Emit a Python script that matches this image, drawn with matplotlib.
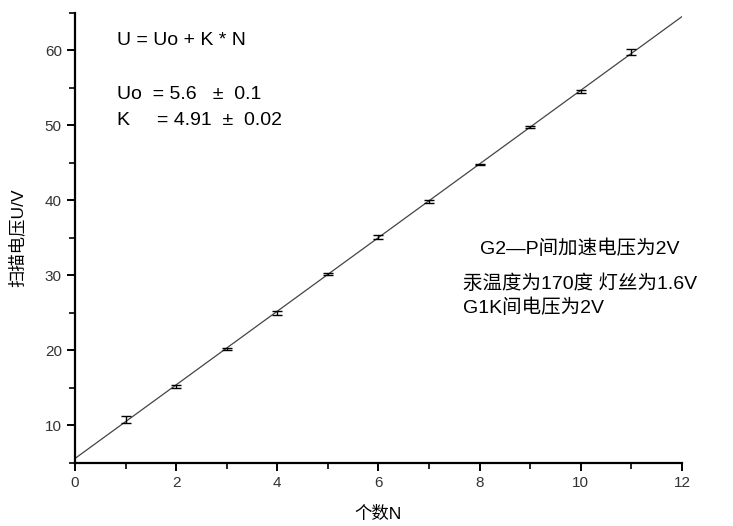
import matplotlib
matplotlib.use("Agg")
import matplotlib.pyplot as plt
from matplotlib.ticker import MultipleLocator

plt.rcParams['font.family'] = ['Liberation Sans', 'Noto Sans CJK SC', 'DejaVu Sans']

# data
n = [1, 2, 3, 4, 5, 6, 7, 8, 9, 10, 11]
u = [10.8, 15.2, 20.2, 25.0, 30.2, 35.1, 39.9, 44.8, 49.8, 54.5, 59.8]
u_err = [0.45, 0.15, 0.15, 0.3, 0.1, 0.25, 0.2, 0.1, 0.1, 0.2, 0.35]
uo = 5.6
k = 4.91
fit_x = [0, 12]

fig = plt.figure(figsize=(7.33, 5.26), dpi=100)
ax = fig.add_axes([0.1023, 0.1198, 0.8281, 0.8555])

ax.plot(fit_x, [uo + k * x for x in fit_x], color='#444444', linewidth=0.9)
ax.errorbar(n, u, yerr=u_err, fmt='none', ecolor='black',
            elinewidth=1.0, capsize=3.5, capthick=1.0)

ax.set_xlim(0, 12)
ax.set_ylim(5, 65)
ax.xaxis.set_major_locator(MultipleLocator(2))
ax.xaxis.set_minor_locator(MultipleLocator(1))
ax.yaxis.set_major_locator(MultipleLocator(10))
ax.yaxis.set_minor_locator(MultipleLocator(5))
ax.spines['top'].set_visible(False)
ax.spines['right'].set_visible(False)
for s in ('left', 'bottom'):
    ax.spines[s].set_linewidth(1.6)
ax.tick_params(which='major', direction='out', length=6, width=1.4,
               labelsize=11, labelcolor='#333333')
ax.tick_params(which='minor', direction='out', length=4, width=1.2)

ax.set_xlabel("个数N", fontsize=12.5, labelpad=11)
ax.set_ylabel("扫描电压U/V", fontsize=12.5, labelpad=14)

ax.text(0.83, 61.3, "U = Uo + K * N", fontsize=14, va='center')
ax.text(0.83, 54.1, "Uo  = 5.6   ±  0.1", fontsize=14, va='center')
ax.text(0.83, 50.7, "K     = 4.91  ±  0.02", fontsize=14, va='center')

ax.text(8.0, 33.6, "G2—P间加速电压为2V", fontsize=14, va='center')
ax.text(7.67, 28.9, "汞温度为170度 灯丝为1.6V", fontsize=14, va='center')
ax.text(7.67, 25.7, "G1K间电压为2V", fontsize=14, va='center')

fig.savefig("out.png", dpi=100)
